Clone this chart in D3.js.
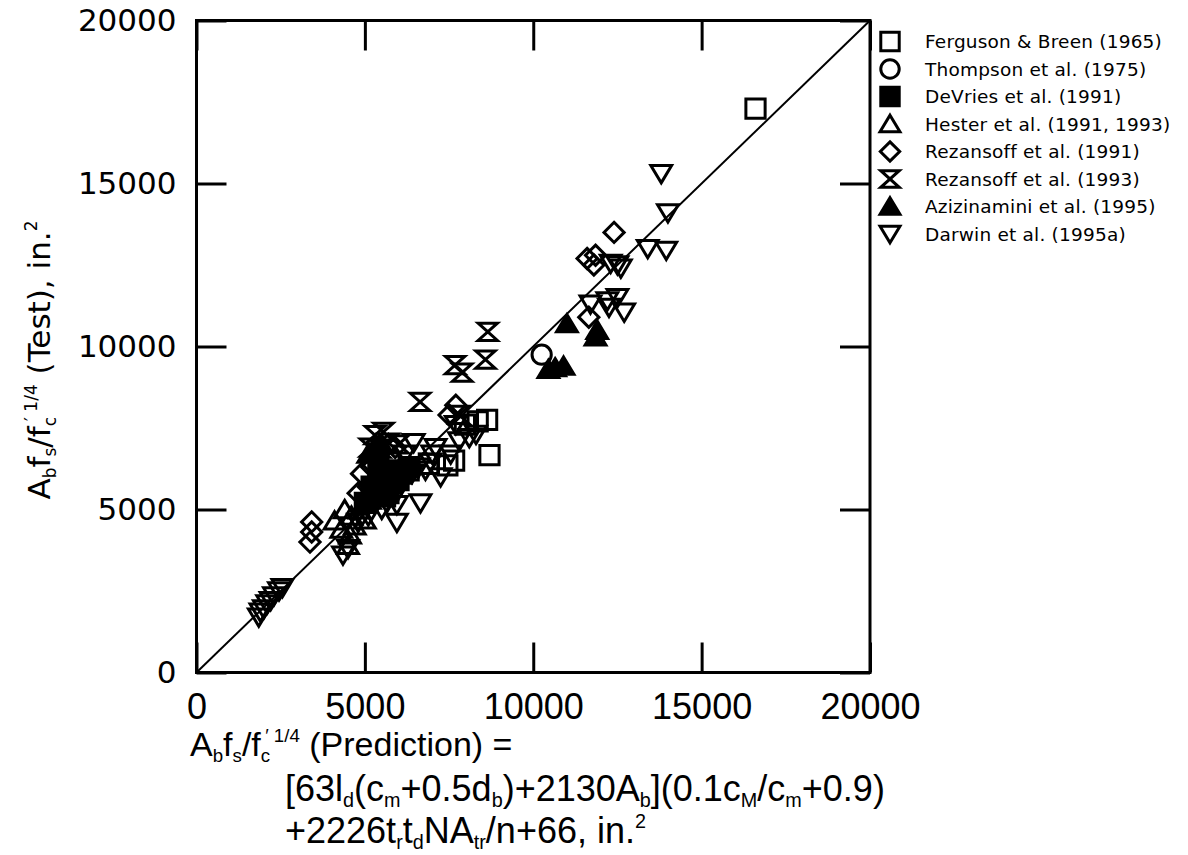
<!DOCTYPE html>
<html>
<head>
<meta charset="utf-8">
<script src="https://cdn.jsdelivr.net/npm/d3@7"></script>
<style>
  body { margin: 0; background: #fff; }
</style>
</head>
<body>
<svg id="chart" width="1188" height="855"></svg>
<script>
// values: [prediction, test], in.^2
var ferguson = [[16600,17300],[8630,7750],[8700,6670],[7970,7600],[8350,7700],[7650,6500],[7450,6350],[6900,6400],[6300,6200]];
var thompson = [[10250,9750]];
var devries = [[5200,5700],[5500,6000],[5800,5800],[6100,6100],[5700,5500],[5000,5200],[6300,6300],[5400,6400],[5900,6200],[6000,5900],[5600,5400]];
var hester = [[4400,5000],[4500,3900],[4560,4220],[4850,4990],[5000,4680],[5150,5290],[5450,5900],[4100,4650],[4300,4400],[4700,4500],[5300,5500],[4600,4800]];
var rez91 = [[3420,4620],[3420,4310],[3370,4000],[4900,6100],[5100,5700],[4800,5500],[5300,5900],[7700,8200],[7500,7900],[11600,12700],[11850,12800],[11800,12500],[12400,13500],[11650,10900],[5700,7000],[5900,6900],[5200,6300]];
var rez93 = [[8650,10450],[8580,9600],[7680,9430],[7890,9200],[6640,8300],[5300,7280],[5550,7380],[5150,6900],[5450,6870],[5700,7050],[7800,7900],[6000,7000]];
var aziz = [[11000,10700],[11900,10500],[11850,10300],[10450,9300],[10650,9350],[10900,9400],[5300,6900],[5500,7000],[5100,6700]];
var darwin = [[13800,15300],[14000,14100],[13400,13000],[13950,12950],[12500,12500],[12600,12400],[12300,12550],
  [11700,11300],[12200,11400],[12500,11500],[12700,11050],[12250,11200],[6450,7050],[7100,6900],[7550,6700],
  [7250,6000],[6650,5200],[5950,4600],[5650,5200],[4350,3600],[6800,6200],[6950,6450],[5950,5150],[7700,7600],
  [8100,7200],[8300,7300],[7800,7100],[6200,6700],[6400,6100],[6000,5600],[5500,5000],[4800,4600],[5100,4800],
  [5700,5400],[4500,3800],[6600,6300],[7000,6700],[1850,1700],[1900,1850],[2000,1950],[2100,2100],[2200,2200],[2300,2350],[2450,2500],[2550,2600]];

var seriesNames = ["Ferguson & Breen (1965)","Thompson et al. (1975)","DeVries et al. (1991)","Hester et al. (1991, 1993)",
  "Rezansoff et al. (1991)","Rezansoff et al. (1993)","Azizinamini et al. (1995)","Darwin et al. (1995a)"];
var seriesData = [ferguson, thompson, devries, hester, rez91, rez93, aziz, darwin];
var tickValues = [0, 5000, 10000, 15000, 20000];

// marker shapes as d3 symbol types
function shape(fn){ return { draw: function(ctx, size){ fn(ctx, Math.sqrt(size) / 2); } }; }
var symSquare = shape(function(c, r){ c.rect(-r, -r, 2*r, 2*r); });
var symDiamond = shape(function(c, r){ r *= 1.05; c.moveTo(0,-r); c.lineTo(r,0); c.lineTo(0,r); c.lineTo(-r,0); c.closePath(); });
var symHourglass = shape(function(c, r){ c.moveTo(-r,-r*0.9); c.lineTo(r,-r*0.9); c.lineTo(-r,r*0.9); c.lineTo(r,r*0.9); c.closePath(); });
var symUp = shape(function(c, r){ c.moveTo(0,-r*0.95); c.lineTo(r*1.08,r*0.85); c.lineTo(-r*1.08,r*0.85); c.closePath(); });
var symDown = shape(function(c, r){ c.moveTo(0,r*0.95); c.lineTo(r*1.08,-r*0.85); c.lineTo(-r*1.08,-r*0.85); c.closePath(); });
var symCircle = shape(function(c, r){ c.moveTo(r,0); c.arc(0,0,r,0,2*Math.PI); });

var seriesShapes = [symSquare, symCircle, symSquare, symUp, symDiamond, symHourglass, symUp, symDown];
var seriesFilled = [false, false, true, false, false, false, true, false];

var svg = d3.select("#chart");
var x = d3.scaleLinear().domain([0, 20000]).range([196.5, 870]);
var y = d3.scaleLinear().domain([0, 20000]).range([672.5, 20.5]);

// rich text with sub/superscripts
function rich(sel, parts, size){
  var cur = 0;
  parts.forEach(function(p){
    var mode = p[1] || "";
    var target = mode === "sub" ? size*0.18 : (mode === "sup" ? -size*0.42 : 0);
    var t = sel.append("tspan").attr("dy", target - cur).attr("font-size", mode ? size*0.55 : size).text(p[0]);
    if (p[2]) t.attr("dx", p[2]);
    cur = target;
  });
}

// 1:1 line
svg.append("line")
  .attr("x1", x(0)).attr("y1", y(0)).attr("x2", x(20000)).attr("y2", y(20000))
  .attr("stroke", "#000").attr("stroke-width", 2);

// points
var sym = d3.symbol().size(370);
seriesData.forEach(function(data, i){
  svg.append("g").selectAll("path")
    .data(data)
    .enter().append("path")
    .attr("transform", function(d){ return "translate(" + x(d[0]) + "," + y(d[1]) + ")"; })
    .attr("d", sym.type(seriesShapes[i])())
    .attr("fill", seriesFilled[i] ? "#000" : "none")
    .attr("stroke", "#000")
    .attr("stroke-width", 3)
    .attr("stroke-linejoin", "miter");
});

// frame
svg.append("rect")
  .attr("x", x(0)).attr("y", y(20000))
  .attr("width", x(20000) - x(0)).attr("height", y(0) - y(20000))
  .attr("fill", "none").attr("stroke", "#000").attr("stroke-width", 3);

// axes, ticks pointing inward
function styleAxis(g){
  g.select(".domain").remove();
  g.selectAll(".tick line").attr("stroke", "#000").attr("stroke-width", 3);
}
var gx = svg.append("g").attr("transform", "translate(0,672.5)")
  .call(d3.axisBottom(x).tickValues(tickValues).tickSize(-30).tickPadding(21).tickFormat(d3.format("d")));
gx.call(styleAxis);
gx.selectAll("text").attr("font-family", "Liberation Sans, sans-serif")
  .attr("font-size", 36).attr("fill", "#000");

var gy = svg.append("g").attr("transform", "translate(196.5,0)")
  .call(d3.axisLeft(y).tickValues(tickValues).tickSize(-30).tickPadding(20).tickFormat(d3.format("d")));
gy.call(styleAxis);
gy.selectAll("text").attr("font-family", "DejaVu Sans, sans-serif")
  .attr("font-size", 31).attr("fill", "#000");

svg.append("g").attr("transform", "translate(0,20.5)")
  .call(d3.axisTop(x).tickValues(tickValues).tickSize(-30).tickFormat("")).call(styleAxis);
svg.append("g").attr("transform", "translate(870,0)")
  .call(d3.axisRight(y).tickValues(tickValues).tickSize(-30).tickFormat("")).call(styleAxis);

// y title
var yt = svg.append("text")
  .attr("transform", "translate(50,360) rotate(-90)")
  .attr("text-anchor", "middle")
  .attr("font-family", "DejaVu Sans, sans-serif");
rich(yt, [["A"],["b","sub"],["f"],["s","sub"],["/f"],["c","sub"],["\u2032 1/4","sup",-4],[" (Test), in."],["2","sup"]], 31);

// x title
var xfont = "Liberation Sans, sans-serif";
var xt1 = svg.append("text").attr("x", 190).attr("y", 756).attr("font-family", xfont);
rich(xt1, [["A"],["b","sub"],["f"],["s","sub"],["/f"],["c","sub"],["\u2032 1/4","sup",-5],[" (Prediction) ="]], 34);
var xt2 = svg.append("text").attr("x", 285).attr("y", 801).attr("font-family", xfont);
rich(xt2, [["[63l"],["d","sub"],["(c"],["m","sub"],["+0.5d"],["b","sub"],[")+2130A"],["b","sub"],["](0.1c"],["M","sub"],["/c"],["m","sub"],["+0.9)"]], 36);
var xt3 = svg.append("text").attr("x", 285).attr("y", 843).attr("font-family", xfont);
rich(xt3, [["+2226t"],["r","sub"],["t"],["d","sub"],["NA"],["tr","sub"],["/n+66,  in."],["2","sup"]], 36);

// legend
var legend = svg.append("g").selectAll("g")
  .data(seriesNames)
  .enter().append("g")
  .attr("transform", function(d, i){ return "translate(890," + (41.5 + i*27.5) + ")"; });
legend.append("path")
  .attr("d", function(d, i){ return d3.symbol().size(340).type(seriesShapes[i])(); })
  .attr("fill", function(d, i){ return seriesFilled[i] ? "#000" : "none"; })
  .attr("stroke", "#000").attr("stroke-width", 3);
legend.append("text")
  .attr("x", 35).attr("dy", "0.36em")
  .attr("font-family", "DejaVu Sans, sans-serif")
  .attr("font-size", 18.5)
  .attr("letter-spacing", 0.2)
  .text(function(d){ return d; });
</script>
</body>
</html>
